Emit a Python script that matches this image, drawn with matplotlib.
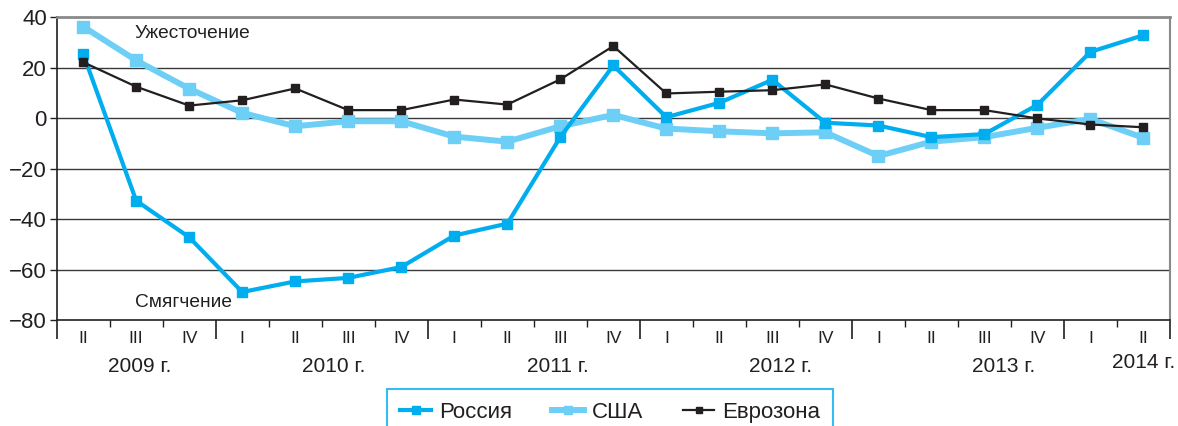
import matplotlib
matplotlib.use("Agg")
import matplotlib.pyplot as plt
import matplotlib.transforms as mtransforms

plt.rcParams['font.family'] = ['Liberation Sans', 'DejaVu Sans']

quarters = ["II", "III", "IV", "I", "II", "III", "IV", "I", "II", "III", "IV",
            "I", "II", "III", "IV", "I", "II", "III", "IV", "I", "II"]
years = ["2009 г.", "2010 г.", "2011 г.", "2012 г.", "2013 г.", "2014 г."]

russia = [25.5, -32.7, -47.2, -68.9, -64.7, -63.3, -59.0, -46.5, -41.8, -7.5, 20.9,
          0.4, 6.1, 15.2, -1.8, -2.9, -7.5, -6.3, 5.3, 26.3, 32.9]
usa = [36.3, 22.9, 11.7, 2.1, -3.2, -1.2, -1.2, -7.3, -9.3, -3.2, 1.3,
       -4.1, -5.2, -6.0, -5.6, -15.0, -9.3, -7.5, -3.8, -0.3, -7.8]
euro = [22.2, 12.5, 5.0, 7.1, 11.8, 3.2, 3.2, 7.4, 5.4, 15.4, 28.6,
        9.8, 10.5, 11.1, 13.4, 7.8, 3.2, 3.2, -0.1, -2.5, -3.6]

C_RU = '#00AEEF'
C_US = '#6DCFF6'
C_EU = '#231F20'
TXT = '#231F20'

fig = plt.figure(figsize=(11.78, 4.26), dpi=100)
ax = fig.add_axes([0.0481, 0.2488, 0.9451, 0.7106])

x = list(range(len(quarters)))

ax.plot(x, usa, color=C_US, lw=4.3, marker='s', ms=8, zorder=3, label='США')
ax.plot(x, russia, color=C_RU, lw=3.0, marker='s', ms=7.5, zorder=4, label='Россия')
ax.plot(x, euro, color=C_EU, lw=1.6, marker='s', ms=5.5, zorder=5, label='Еврозона')

ax.set_xlim(-0.5, len(quarters) - 0.5)
ax.set_ylim(-80, 40)
ax.set_yticks([-80, -60, -40, -20, 0, 20, 40])
ax.set_yticklabels(['\u221280', '\u221260', '\u221240', '\u221220', '0', '20', '40'])
ax.tick_params(axis='y', labelsize=16, colors=TXT, length=5, width=1, pad=2)

for v in [-60, -40, -20, 0, 20]:
    ax.axhline(v, color='#3a3a3a', lw=1.0, zorder=1)

# spines
ax.spines['top'].set_color('#8a8a8a')
ax.spines['top'].set_linewidth(2.0)
ax.spines['right'].set_color('#8a8a8a')
ax.spines['right'].set_linewidth(1.5)
ax.spines['left'].set_color(TXT)
ax.spines['left'].set_linewidth(1.2)
ax.spines['bottom'].set_color(TXT)
ax.spines['bottom'].set_linewidth(1.2)

# x ticks: year boundaries long, quarter boundaries short
year_bounds = [-0.5, 2.5, 6.5, 10.5, 14.5, 18.5, 20.5]
quarter_bounds = [b + 0.5 for b in range(-1, len(quarters)) if (b + 0.5) not in year_bounds]
ax.set_xticks(year_bounds)
ax.set_xticklabels([])
ax.set_xticks(quarter_bounds, minor=True)
ax.tick_params(axis='x', which='major', length=14, width=1.2, color=TXT, direction='out')
ax.tick_params(axis='x', which='minor', length=5, width=1.0, color=TXT, direction='out')

trans = mtransforms.blended_transform_factory(ax.transData, ax.transAxes)
for i, q in enumerate(quarters):
    ax.text(i, -0.062, q, transform=trans, ha='center', va='center',
            fontsize=12.5, color=TXT)

year_x = [1.07, 4.73, 8.96, 13.15, 17.37, 20.0]
year_y = [-0.155, -0.155, -0.155, -0.155, -0.155, -0.142]
for yx, yy, lab in zip(year_x, year_y, years):
    ax.text(yx, yy, lab, transform=trans, ha='center', va='center',
            fontsize=15, color=TXT)

ann_x = 0.977
ax.text(ann_x, 0.945, 'Ужесточение', transform=trans,
        ha='left', va='center', fontsize=13.8, color=TXT)
ax.text(ann_x, 0.058, 'Смягчение', transform=trans,
        ha='left', va='center', fontsize=13.8, color=TXT)

handles, labels = ax.get_legend_handles_labels()
order = [1, 0, 2]
leg = fig.legend([handles[i] for i in order], [labels[i] for i in order],
                 loc='center', bbox_to_anchor=(0.518, 0.032), ncol=3,
                 fontsize=16, frameon=True, fancybox=False, handlelength=1.4,
                 columnspacing=1.8, borderpad=0.6, handletextpad=0.36,
                 borderaxespad=0, markerscale=0.8)
leg.get_frame().set_edgecolor(C_RU)
leg.get_frame().set_linewidth(1.5)
for t in leg.get_texts():
    t.set_color(TXT)

fig.savefig('out.png', dpi=100)
